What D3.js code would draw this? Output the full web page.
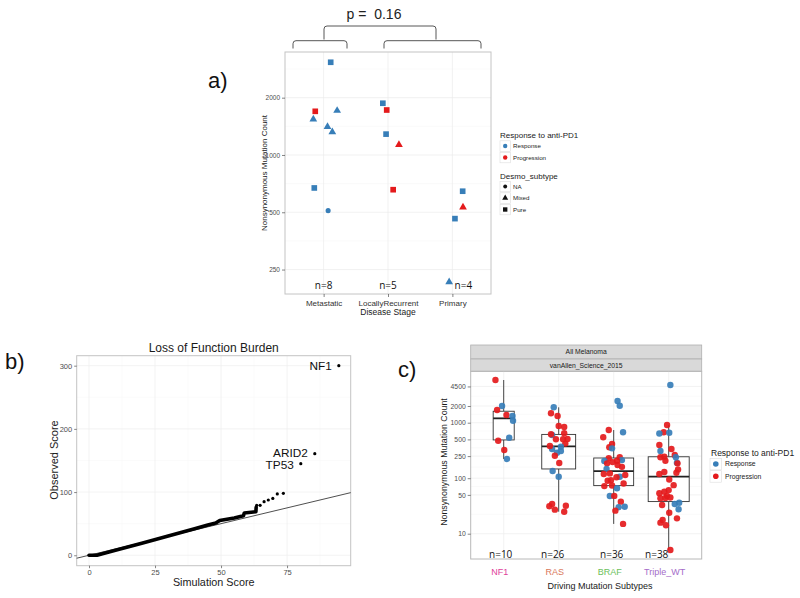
<!DOCTYPE html>
<html><head><meta charset="utf-8">
<script src="https://cdn.jsdelivr.net/npm/d3@7"></script>
<style>body{margin:0;background:#fff}svg{display:block}text{white-space:pre}</style>
</head><body><svg id="chart" width="800" height="598"></svg>
<script>
// ---------------- DATA ----------------
// Panel a
const stageCats = ["Metastatic", "LocallyRecurrent", "Primary"];
const stageN = ["n=8", "n=5", "n=4"];
const aYTicks = [250, 500, 1000, 2000];
const aStage = ["Metastatic","Metastatic","Metastatic","Metastatic","Metastatic","Metastatic","Metastatic","Metastatic",
  "LocallyRecurrent","LocallyRecurrent","LocallyRecurrent","LocallyRecurrent","LocallyRecurrent",
  "Primary","Primary","Primary","Primary"];
const aValue = [3070,1696,1710,1540,1407,1320,671,510, 1870,1723,1287,1133,657, 645,531,463,215];
const aResponse = ["Response","Progression","Response","Response","Response","Response","Response","Response",
  "Response","Progression","Response","Progression","Progression",
  "Response","Progression","Response","Response"];
const aSubtype = ["Pure","Pure","Mixed","Mixed","Mixed","Mixed","Pure","NA",
  "Pure","Pure","Pure","Mixed","Pure",
  "Pure","Mixed","Pure","Mixed"];
const aJitter = [0.11,-0.13,0.21,-0.16,0.06,0.135,-0.145,0.07, -0.08,-0.02,-0.03,0.17,0.08, 0.16,0.165,0.04,-0.05];
const pText = "p =  0.16";

// Panel b
const bXTicks = [0, 25, 50, 75];
const bYTicks = [0, 100, 200, 300];
const bCurveSim = [0, 3, 10, 20, 30, 40, 45, 48, 49.5, 55, 58.5, 58.8, 63.2, 63.3];
const bCurveObs = [0, 0, 8, 19, 30.5, 42, 48, 51, 55, 59, 62.5, 67, 69, 76];
const bDotSim = [63.5, 64.8, 66.3, 67.9, 69.6, 71.3, 73.6];
const bDotObs = [79, 79, 84.8, 87.5, 90, 97, 98];
const bGenes = ["NF1", "ARID2", "TP53"];
const bGeneSim = [94.6, 85.5, 80.2];
const bGeneObs = [300, 160.8, 145];

// Panel c
const drvCats = ["NF1", "RAS", "BRAF", "Triple_WT"];
const drvN = ["n=10", "n=26", "n=36", "n=38"];
const drvColors = ["#e0409a", "#d9785a", "#6cbf5c", "#a56cc9"];
const cYTicks = [10, 50, 100, 250, 500, 1000, 2000, 4500];
const nf1Values = [5877,2000,1694,1377,1320,1087,537,474,322,222];
const nf1Resp   = ["P","R","P","P","R","R","R","P","P","R"];
const nf1Jitter = [-0.15,-0.03,-0.12,0.05,0.16,0.17,0.10,-0.10,0.01,0.06];
const rasValues = [1894,1475,1320,873,838,644,600,620,504,504,509,420,369,336,380,288,309,254,188,135,106,31.2,34.3,27.1,24.9,31.9];
const rasResp   = ["R","P","P","P","P","P","R","P","P","P","P","P","R","R","P","R","R","P","P","R","R","P","P","P","P","P"];
const rasJitter = [-0.09,-0.14,-0.02,0,0.10,0.10,-0.12,-0.14,-0.05,0.08,0.16,0.12,0.04,-0.12,-0.16,-0.03,0.04,-0.07,0.01,-0.11,0,-0.17,-0.12,-0.07,0.10,0.13];
const brafValues = [2460,2023,671,738,546,413,360,345,238,229,204,212,206,185,173,147,119,122,106,114,90,92,104,72,74,65.7,47.8,48,37.8,30,30.5,26,15,160,195,80];
const brafResp   = ["R","R","R","P","P","P","P","R","P","P","R","R","P","P","P","R","P","P","R","P","P","P","P","P","P","R","R","P","P","R","R","P","P","P","P","P"];
const brafJitter = [0.07,0.11,0.17,-0.09,-0.19,-0.03,-0.08,-0.03,0.11,-0.09,-0.17,0.15,0.06,-0.12,0.07,-0.13,-0.18,-0.07,0.11,0.21,-0.11,-0.05,0.05,-0.17,-0.03,0.06,-0.07,0.01,0.13,0.09,0.2,0.03,0.17,0.15,-0.02,0.18];
const twtValues = [4780,910,671,640,660,396,309,336,262,238,245,206,238,190,185,144,129,119,95,125,75,61,57,53.5,47.8,43.5,44,45,32.9,34.3,36.2,27.5,23.9,18.9,17.7,15.8,14.2,5.1];
const twtResp   = ["R","P","P","R","R","P","R","P","P","P","P","P","R","R","P","P","P","P","P","P","P","P","P","P","P","P","P","P","P","R","R","R","P","P","P","P","P","P"];
const twtJitter = [0.03,-0.03,-0.09,-0.17,0.01,-0.17,-0.15,0.05,0.11,-0.15,-0.08,-0.06,0.13,0.15,0.16,0.17,-0.08,-0.17,0.01,0.14,0.09,0,-0.08,-0.17,-0.03,-0.15,-0.06,0.03,-0.12,0.11,0.19,0.18,0.01,0.15,-0.11,-0.15,-0.05,0.03];

// ---------------- DRAWING ----------------
const FONT = "'Liberation Sans', Arial, Helvetica, sans-serif";
const NFONT = "'Open Sans', 'DejaVu Sans', sans-serif";
const BLUE = "#377eb8", RED = "#e41a1c";
const respColor = r => (r === "Response" || r === "R") ? BLUE : RED;
const svg = d3.select("#chart");
svg.append("rect").attr("width", 800).attr("height", 598).attr("fill", "#fff");

function txt(g, x, y, s, size, opts = {}) {
  const t = g.append("text").attr("x", x).attr("y", y).text(s)
    .attr("font-family", opts.family || FONT).attr("font-size", size)
    .attr("fill", opts.fill || "#1a1a1a").attr("text-anchor", opts.anchor || "start")
    .attr("xml:space", "preserve");
  if (opts.rotate) t.attr("transform", `rotate(-90,${x},${y})`);
  return t;
}
function styleAxis(g, fs) {
  g.select(".domain").remove();
  g.selectAll(".tick line").attr("stroke", "#333").attr("stroke-width", 0.6);
  g.selectAll(".tick text").attr("fill", "#4d4d4d").attr("font-size", fs).attr("font-family", FONT);
}

// ===== Panel a =====
{
  const A = {l: 285, r: 491, t: 52, b: 294};
  const g = svg.append("g");
  const xA = d3.scalePoint().domain(stageCats).range([A.l, A.r]).padding(0.6);
  const yA = d3.scaleLog().domain([186, 3476]).range([A.b, A.t]);
  const minor = d3.pairs(aYTicks).map(([a, b]) => Math.sqrt(a * b)).concat([Math.sqrt(2000 * 4000), Math.sqrt(125 * 250)]);
  minor.forEach(v => { const y = yA(v); if (y > A.t && y < A.b) g.append("line").attr("x1", A.l).attr("x2", A.r).attr("y1", y).attr("y2", y).attr("stroke", "#f4f4f4").attr("stroke-width", 0.5); });
  aYTicks.forEach(v => g.append("line").attr("x1", A.l).attr("x2", A.r).attr("y1", yA(v)).attr("y2", yA(v)).attr("stroke", "#ebebeb").attr("stroke-width", 0.7));
  stageCats.forEach(c => g.append("line").attr("x1", xA(c)).attr("x2", xA(c)).attr("y1", A.t).attr("y2", A.b).attr("stroke", "#ebebeb").attr("stroke-width", 0.7));
  g.append("rect").attr("x", A.l).attr("y", A.t).attr("width", A.r - A.l).attr("height", A.b - A.t).attr("fill", "none").attr("stroke", "#c4c4c4").attr("stroke-width", 1);
  const ax = g.append("g").attr("transform", `translate(${A.l},0)`).call(d3.axisLeft(yA).tickValues(aYTicks).tickSize(3).tickPadding(2).tickFormat(d3.format("d")));
  styleAxis(ax, 6.5);
  const axb = g.append("g").attr("transform", `translate(0,${A.b})`).call(d3.axisBottom(xA).tickSize(3).tickPadding(3));
  styleAxis(axb, 8);
  axb.selectAll(".tick text").attr("fill", "#333");
  txt(g, 388, 315, "Disease Stage", 8.5, {anchor: "middle"});
  txt(g, 267, 173, "Nonsynonymous Mutation Count", 8, {anchor: "middle", rotate: true});
  const sym = {NA: d3.symbolCircle, Mixed: d3.symbolTriangle, Pure: d3.symbolSquare};
  const size = {NA: 20, Mixed: 26, Pure: 32};
  aValue.forEach((v, i) => {
    const x = xA(aStage[i]) + aJitter[i] * xA.step();
    g.append("path").attr("d", d3.symbol(sym[aSubtype[i]], size[aSubtype[i]])())
      .attr("transform", `translate(${x},${yA(v)})`).attr("fill", respColor(aResponse[i]));
  });
  const nOff = [0, 0, 11];
  stageCats.forEach((c, i) => txt(g, xA(c) + nOff[i], 289, stageN[i], 10, {anchor: "middle", family: NFONT, fill: "#111"}));
  const br = g.append("g").attr("fill", "none").attr("stroke", "#444").attr("stroke-width", 0.9);
  function bracket(x1, x2, yTop, yBot) {
    const r = 3;
    br.append("path").attr("d", `M${x1},${yBot} V${yTop + r} Q${x1},${yTop} ${x1 + r},${yTop} H${x2 - r} Q${x2},${yTop} ${x2},${yTop + r} V${yBot}`);
  }
  bracket(293, 347, 40.7, 48.5);
  bracket(384, 481, 40.7, 48.5);
  bracket(324, 436, 26, 39.5);
  txt(g, 374, 18.5, pText, 14, {anchor: "middle", fill: "#222"});
  txt(g, 208, 88, "a)", 22, {fill: "#111"});
  const L = g.append("g");
  txt(L, 500, 138, "Response to anti-PD1", 8);
  [["Response", 146], ["Progression", 157.5]].forEach(([k, y]) => {
    L.append("rect").attr("x", 500).attr("y", y - 5.2).attr("width", 10.5).attr("height", 10.5).attr("fill", "#fff").attr("stroke", "#ddd").attr("stroke-width", 0.6);
    L.append("circle").attr("cx", 505.2).attr("cy", y).attr("r", 2.2).attr("fill", respColor(k));
    txt(L, 513, y + 2.3, k, 6.2);
  });
  txt(L, 500, 178.5, "Desmo_subtype", 8);
  [["NA", 186.5], ["Mixed", 198], ["Pure", 209.5]].forEach(([k, y]) => {
    L.append("rect").attr("x", 500).attr("y", y - 5.2).attr("width", 10.5).attr("height", 10.5).attr("fill", "#fff").attr("stroke", "#ddd").attr("stroke-width", 0.6);
    L.append("path").attr("d", d3.symbol(sym[k], size[k] * 0.6)()).attr("transform", `translate(505.2,${y})`).attr("fill", "#111");
    txt(L, 513, y + 2.3, k, 6.2);
  });
}

// ===== Panel b =====
{
  const B = {l: 76.7, r: 350.7, t: 355.7, b: 565.7};
  const g = svg.append("g");
  const xB = d3.scaleLinear().domain([-4.66, 99.1]).range([B.l, B.r]);
  const yB = d3.scaleLinear().domain([-16.5, 315.8]).range([B.b, B.t]);
  [12.5, 37.5, 62.5, 87.5].forEach(v => g.append("line").attr("x1", xB(v)).attr("x2", xB(v)).attr("y1", B.t).attr("y2", B.b).attr("stroke", "#f6f6f6").attr("stroke-width", 0.5));
  [50, 150, 250].forEach(v => g.append("line").attr("x1", B.l).attr("x2", B.r).attr("y1", yB(v)).attr("y2", yB(v)).attr("stroke", "#f6f6f6").attr("stroke-width", 0.5));
  bXTicks.forEach(v => g.append("line").attr("x1", xB(v)).attr("x2", xB(v)).attr("y1", B.t).attr("y2", B.b).attr("stroke", "#eeeeee").attr("stroke-width", 0.7));
  bYTicks.forEach(v => g.append("line").attr("x1", B.l).attr("x2", B.r).attr("y1", yB(v)).attr("y2", yB(v)).attr("stroke", "#eeeeee").attr("stroke-width", 0.7));
  g.append("rect").attr("x", B.l).attr("y", B.t).attr("width", B.r - B.l).attr("height", B.b - B.t).attr("fill", "none").attr("stroke", "#c4c4c4").attr("stroke-width", 1);
  const ay = g.append("g").attr("transform", `translate(${B.l},0)`).call(d3.axisLeft(yB).tickValues(bYTicks).tickSize(2.5).tickPadding(2));
  styleAxis(ay, 7.5);
  const ax = g.append("g").attr("transform", `translate(0,${B.b})`).call(d3.axisBottom(xB).tickValues(bXTicks).tickSize(2.5).tickPadding(1));
  styleAxis(ax, 7.5);
  const dom = xB.domain();
  g.append("line").attr("x1", xB(dom[0])).attr("y1", yB(dom[0])).attr("x2", xB(dom[1])).attr("y2", yB(dom[1])).attr("stroke", "#222").attr("stroke-width", 0.8);
  const line = d3.line().x(d => xB(d[0])).y(d => yB(d[1]));
  g.append("path").attr("d", line(bCurveSim.map((s, i) => [s, bCurveObs[i]]))).attr("fill", "none").attr("stroke", "#000").attr("stroke-width", 3.6).attr("stroke-linejoin", "round").attr("stroke-linecap", "round");
  bDotSim.forEach((s, i) => g.append("circle").attr("cx", xB(s)).attr("cy", yB(bDotObs[i])).attr("r", 1.6).attr("fill", "#000"));
  const labDy = [4.3, 3.2, 5.6];
  bGenes.forEach((n, i) => {
    g.append("circle").attr("cx", xB(bGeneSim[i])).attr("cy", yB(bGeneObs[i])).attr("r", 1.6).attr("fill", "#000");
    txt(g, xB(bGeneSim[i]) - 7, yB(bGeneObs[i]) + labDy[i], n, 11.8, {anchor: "end", fill: "#111"});
  });
  txt(g, 213.7, 352, "Loss of Function Burden", 12, {anchor: "middle"});
  txt(g, 213.7, 585.5, "Simulation Score", 10.8, {anchor: "middle"});
  txt(g, 58, 460, "Observed Score", 11, {anchor: "middle", rotate: true});
  txt(g, 5, 369, "b)", 22, {fill: "#111"});
}

// ===== Panel c =====
{
  const C = {l: 470.7, r: 701.7, t: 371.3, b: 559};
  const g = svg.append("g");
  const xC = d3.scalePoint().domain(drvCats).range([C.l, C.r]).padding(0.6);
  const yC = d3.scaleLog().domain([3.5, 8433]).range([C.b, C.t]);
  [["All Melanoma", 345, 359], ["vanAllen_Science_2015", 359, 371.3]].forEach(([s, y0, y1]) => {
    g.append("rect").attr("x", C.l).attr("y", y0).attr("width", C.r - C.l).attr("height", y1 - y0).attr("fill", "#d9d9d9").attr("stroke", "#b0b0b0").attr("stroke-width", 0.8);
    txt(g, (C.l + C.r) / 2, (y0 + y1) / 2 + 2.4, s, 6.8, {anchor: "middle"});
  });
  const minorC = d3.pairs(cYTicks).map(([a, b]) => Math.sqrt(a * b));
  minorC.forEach(v => g.append("line").attr("x1", C.l).attr("x2", C.r).attr("y1", yC(v)).attr("y2", yC(v)).attr("stroke", "#f5f5f5").attr("stroke-width", 0.5));
  cYTicks.forEach(v => g.append("line").attr("x1", C.l).attr("x2", C.r).attr("y1", yC(v)).attr("y2", yC(v)).attr("stroke", "#ececec").attr("stroke-width", 0.7));
  drvCats.forEach(c => g.append("line").attr("x1", xC(c)).attr("x2", xC(c)).attr("y1", C.t).attr("y2", C.b).attr("stroke", "#ececec").attr("stroke-width", 0.7));
  g.append("rect").attr("x", C.l).attr("y", C.t).attr("width", C.r - C.l).attr("height", C.b - C.t).attr("fill", "none").attr("stroke", "#b8b8b8").attr("stroke-width", 1);
  const ay = g.append("g").attr("transform", `translate(${C.l},0)`).call(d3.axisLeft(yC).tickValues(cYTicks).tickSize(3).tickPadding(2).tickFormat(d3.format("d")));
  styleAxis(ay, 6.8);
  const groups = [
    {cat: "NF1", v: nf1Values, r: nf1Resp, j: nf1Jitter},
    {cat: "RAS", v: rasValues, r: rasResp, j: rasJitter},
    {cat: "BRAF", v: brafValues, r: brafResp, j: brafJitter},
    {cat: "Triple_WT", v: twtValues, r: twtResp, j: twtJitter}
  ];
  const maxN = d3.max(groups, d => d.v.length);
  groups.forEach(G => {
    const lv = G.v.map(Math.log10).sort(d3.ascending);
    const q1 = d3.quantile(lv, 0.25), q2 = d3.quantile(lv, 0.5), q3 = d3.quantile(lv, 0.75);
    const iqr = q3 - q1;
    const lo = d3.min(lv.filter(d => d >= q1 - 1.5 * iqr)), hi = d3.max(lv.filter(d => d <= q3 + 1.5 * iqr));
    const w = 41 * Math.sqrt(G.v.length / maxN);
    const cx = xC(G.cat);
    const Y = l => yC(Math.pow(10, l));
    g.append("line").attr("x1", cx).attr("x2", cx).attr("y1", Y(hi)).attr("y2", Y(q3)).attr("stroke", "#333").attr("stroke-width", 0.9);
    g.append("line").attr("x1", cx).attr("x2", cx).attr("y1", Y(q1)).attr("y2", Y(lo)).attr("stroke", "#333").attr("stroke-width", 0.9);
    g.append("rect").attr("x", cx - w / 2).attr("y", Y(q3)).attr("width", w).attr("height", Y(q1) - Y(q3)).attr("fill", "#fff").attr("stroke", "#333").attr("stroke-width", 0.9);
    g.append("line").attr("x1", cx - w / 2).attr("x2", cx + w / 2).attr("y1", Y(q2)).attr("y2", Y(q2)).attr("stroke", "#222").attr("stroke-width", 1.8);
  });
  groups.forEach(G => {
    G.v.forEach((v, i) => {
      g.append("circle").attr("cx", xC(G.cat) + G.j[i] * xC.step()).attr("cy", yC(v)).attr("r", 3.2)
        .attr("fill", respColor(G.r[i])).attr("fill-opacity", 0.92);
    });
  });
  const nOff = [-3, -6, -2, -12];
  drvCats.forEach((c, i) => txt(g, xC(c) + nOff[i], 558, drvN[i], 10, {anchor: "middle", family: NFONT, fill: "#111"}));
  drvCats.forEach((c, i) => txt(g, xC(c) - 4, 575, c, 9, {anchor: "middle", fill: drvColors[i]}));
  txt(g, 600, 589, "Driving Mutation Subtypes", 9, {anchor: "middle"});
  txt(g, 447, 462, "Nonsynonymous Mutation Count", 8.8, {anchor: "middle", rotate: true});
  txt(g, 398, 377, "c)", 22, {fill: "#111"});
  const L = g.append("g");
  txt(L, 711, 455.5, "Response to anti-PD1", 8.5);
  [["Response", 464], ["Progression", 476.3]].forEach(([k, y]) => {
    L.append("rect").attr("x", 710).attr("y", y - 5.6).attr("width", 11.5).attr("height", 11.5).attr("fill", "#fff").attr("stroke", "#ddd").attr("stroke-width", 0.6);
    L.append("circle").attr("cx", 715.8).attr("cy", y).attr("r", 2.8).attr("fill", respColor(k));
    txt(L, 725, y + 2.4, k, 6.8);
  });
}
</script></body></html>
